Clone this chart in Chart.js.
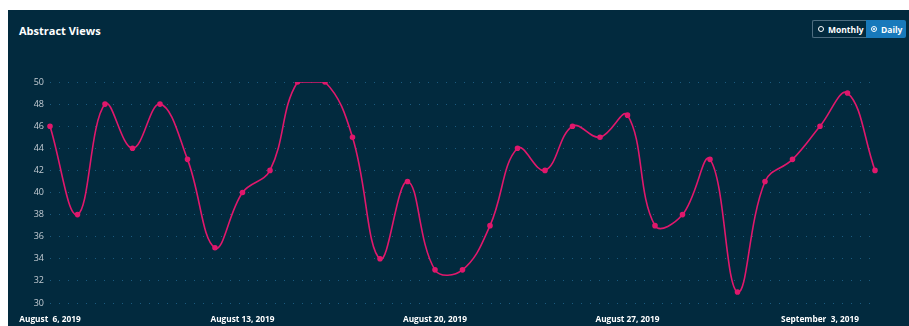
<!DOCTYPE html>
<html>
<head>
<meta charset="utf-8">
<script src="https://cdn.jsdelivr.net/npm/chart.js@4/dist/chart.umd.min.js"></script>
<style>
  html, body { margin: 0; padding: 0; background: #ffffff; width: 909px; height: 326px; overflow: hidden; }
  #panel { position: absolute; left: 8px; top: 10px; width: 901px; height: 316px; background: #022a3e; }
  #title { position: absolute; left: 11px; top: 13px; font: bold 11px "Open Sans", sans-serif; color: #ffffff; }
  #btns { position: absolute; left: 804px; top: 10px; height: 18px; display: flex; font: bold 8.5px "Open Sans", sans-serif; color: #fff; white-space: nowrap; }
  .btn { display: flex; align-items: center; padding: 0 0 0 5px; box-sizing: border-box; height: 18px; overflow: hidden; }
  .b1 { width: 54px; border: 1px solid #4d6d80; border-right: none; border-radius: 2px 0 0 2px; background: #022a3e; }
  .b2 { width: 40px; background: #1879bb; border-radius: 0 2px 2px 0; }
  .rad { flex: 0 0 auto; width: 4px; height: 4px; border-radius: 50%; border: 1px solid #fff; margin-right: 4px; position: relative; }
  .rad.on::after { content: ""; position: absolute; left: 1px; top: 1px; width: 2px; height: 2px; border-radius: 50%; background: #fff; }
  #cwrap { position: absolute; left: 0; top: 0; width: 901px; height: 316px; }
</style>
</head>
<body>
<div id="panel">
  <div id="title">Abstract Views</div>
  <div id="btns">
    <div class="btn b1"><span class="rad"></span>Monthly</div>
    <div class="btn b2"><span class="rad on"></span>Daily</div>
  </div>
  <div id="cwrap"><canvas id="c" width="901" height="316"></canvas></div>
</div>
<script>
const dates = ["August  6, 2019","August  7, 2019","August  8, 2019","August  9, 2019","August 10, 2019","August 11, 2019","August 12, 2019",
  "August 13, 2019","August 14, 2019","August 15, 2019","August 16, 2019","August 17, 2019","August 18, 2019","August 19, 2019",
  "August 20, 2019","August 21, 2019","August 22, 2019","August 23, 2019","August 24, 2019","August 25, 2019","August 26, 2019",
  "August 27, 2019","August 28, 2019","August 29, 2019","August 30, 2019","August 31, 2019","September  1, 2019","September  2, 2019",
  "September  3, 2019","September  4, 2019","September  5, 2019"];
const views = [46, 38, 48, 44, 48, 43, 35, 40, 42, 50, 50, 45, 34, 41, 33, 33, 37, 44, 42, 46, 45, 47, 37, 38, 43, 31, 41, 43, 46, 49, 42];
const shownDates = ["August  6, 2019","August 13, 2019","August 20, 2019","August 27, 2019","September  3, 2019"];
const yTicks = [30, 32, 34, 36, 38, 40, 42, 44, 46, 48, 50];

new Chart(document.getElementById('c'), {
  type: 'line',
  data: {
    labels: dates,
    datasets: [{
      label: 'Abstract Views',
      data: views,
      borderColor: '#e0186c',
      backgroundColor: '#e0186c',
      borderWidth: 1.6,
      pointRadius: 2,
      pointHoverRadius: 3,
      tension: 0.4,
      fill: false
    }]
  },
  options: {
    responsive: false,
    animation: false,
    layout: { padding: { top: 72, right: 34, left: 0, bottom: 0 } },
    plugins: { legend: { display: false }, tooltip: { enabled: false } },
    scales: {
      x: {
        offset: false,
        border: { display: false },
        grid: { display: false, drawTicks: false },
        afterFit: s => { s.height = 23; s.paddingLeft = 0; s.paddingRight = 0; },
        ticks: {
          autoSkip: false,
          maxRotation: 0,
          padding: 12,
          color: '#ffffff',
          font: { family: 'Open Sans', weight: 'bold', size: 8.3 },
          callback: function(v, i) { const l = dates[i]; return shownDates.includes(l) ? l : ''; }
        }
      },
      y: {
        min: 30, max: 50,
        afterFit: s => { s.width = 42; },
        afterBuildTicks: s => { s.ticks = yTicks.map(v => ({ value: v })); },
        grid: { color: '#1b5a7e', lineWidth: 1, drawTicks: false },
        border: { display: false, dash: [1, 8] },
        ticks: {
          padding: 6,
          color: '#c4ccd3',
          font: { family: 'Open Sans', size: 9 }
        }
      }
    }
  }
});
</script>
</body>
</html>
